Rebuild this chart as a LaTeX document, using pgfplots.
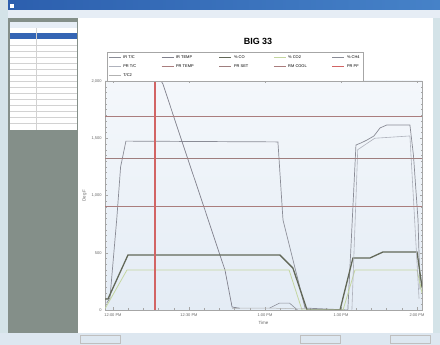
\documentclass[border=0pt]{standalone}
\usepackage{fontspec}
\setmainfont{Liberation Sans}
\usepackage{pgfplots}
\pgfplotsset{compat=1.18}
\definecolor{bgside}{RGB}{212,227,232}
\definecolor{titleblue}{RGB}{44,95,174}
\definecolor{titleblue2}{RGB}{70,130,200}
\definecolor{menubar}{RGB}{230,237,245}
\definecolor{panelgray}{RGB}{132,143,137}
\definecolor{selblue}{RGB}{52,101,180}
\definecolor{statusbar}{RGB}{221,231,240}
\definecolor{refred}{RGB}{170,125,125}
\definecolor{cursorred}{RGB}{210,100,100}
\definecolor{steepgray}{RGB}{128,128,140}
\definecolor{plategray}{RGB}{138,140,150}
\definecolor{darkolive}{RGB}{98,104,88}
\definecolor{lightgreen}{RGB}{196,214,160}
\definecolor{lightgray}{RGB}{175,178,188}
\definecolor{plotbg}{RGB}{228,236,245}
\begin{document}
\begin{tikzpicture}
% ---------- window frame (decoration) ----------
\fill[bgside] (0bp,0bp) rectangle (440bp,345bp);
\shade[left color=titleblue, right color=titleblue2] (8bp,335bp) rectangle (440bp,344bp);
\fill[white] (10bp,337bp) rectangle (14bp,341bp);
\fill[menubar] (8bp,327bp) rectangle (440bp,335bp);
\fill[panelgray] (8bp,12bp) rectangle (78bp,327bp);
\fill[white] (10bp,215bp) rectangle (77bp,323bp);
\fill[menubar] (10bp,317bp) rectangle (77bp,323bp);
\fill[selblue] (10bp,306bp) rectangle (77bp,312bp);
\foreach \r in {300,294,288,282,276,270,264,258,252,246,240,234,228,222}{
  \draw[gray!35,line width=0.3bp] (10bp,\r bp) -- (77bp,\r bp);}
\draw[gray!35,line width=0.3bp] (36bp,215bp) -- (36bp,317bp);
\fill[white] (78bp,12bp) rectangle (433bp,327bp);
\fill[statusbar] (0bp,0bp) rectangle (440bp,12bp);
\draw[gray!50,line width=0.3bp] (80bp,2bp) rectangle (120bp,10bp);
\draw[gray!50,line width=0.3bp] (300bp,2bp) rectangle (340bp,10bp);
\draw[gray!50,line width=0.3bp] (390bp,2bp) rectangle (430bp,10bp);
% ---------- title ----------
\node[font=\bfseries\fontsize{9}{10}\selectfont] at (258bp,304bp) {BIG 33};
% ---------- chart ----------
\begin{axis}[
  at={(105bp,35bp)}, anchor=south west,
  width=317bp, height=229bp, scale only axis,
  xmin=-3.16, xmax=121.97, ymin=0, ymax=2000,
  axis background/.style={top color=white!60!plotbg, bottom color=plotbg},
  axis line style={gray!70, line width=0.6bp},
  xtick={0,30,60,90,120},
  xticklabels={12:00 PM,12:30 PM,1:00 PM,1:30 PM,2:00 PM},
  ytick={0,500,1000,1500,2000},
  minor x tick num=4, minor y tick num=9,
  tick style={gray!70, line width=0.3bp},
  major tick length=2.5bp, minor tick length=1.5bp,
  tick label style={font=\fontsize{4}{4.5}\selectfont, text=gray!80!black},
  /pgf/number format/assume math mode=true,
  xlabel={Time}, ylabel={Deg F},
  label style={font=\fontsize{4.5}{5}\selectfont, text=gray!80!black},
  xlabel style={yshift=2bp}, ylabel style={yshift=-2bp},
  legend columns=5,
  legend cell align=left,
  legend style={at={(axis description cs:0.006,1.127)}, anchor=north west,
    font=\fontsize{4}{4.5}\selectfont, draw=gray!70, line width=0.4bp,
    inner sep=1.5bp, row sep=0.6bp,
    /tikz/every even column/.append style={column sep=23bp}},
  legend image code/.code={\draw[#1] (0bp,0bp) -- (12bp,0bp);},
]
% 1 IR T/C : plateau curve
\addplot[plategray, line width=0.7bp] coordinates {
 (-2.5,60) (-1.2,105) (1.5,800) (3.0,1250) (5.1,1475) (30,1472) (65.1,1468)
 (67.1,786) (75.8,17) (92.7,0) (95.9,1441) (98,1460) (100.3,1485) (103,1520)
 (105.4,1590) (108.1,1616) (117.2,1616) (118.6,1350) (120.4,786) (121.2,180)};
\addlegendentry{IR T/C}
% 2 IR TEMP : steep descending line
\addplot[steepgray, line width=0.7bp] coordinates {
 (19.0,2000) (19.7,1974) (28,1420) (36.3,873) (41,560) (44.2,349) (47.0,26) (50,15)};
\addlegendentry{IR TEMP}
% 3 % CO : thick dark line
\addplot[darkolive, line width=1.3bp] coordinates {
 (-3.16,96) (-2,96) (5.9,480) (40,480) (65.9,480) (71.0,367) (76.6,0)
 (89.6,0) (94.7,454) (101.4,454) (106.6,507) (120.0,507) (121.97,200)};
\addlegendentry{\% CO}
% 4 % CO2 : light green
\addplot[lightgreen, line width=0.8bp] coordinates {
 (-3.16,17) (-3,17) (5.5,349) (40,349) (69.5,349) (74.6,0) (90.8,0)
 (95.5,349) (120,349) (121.97,150)};
\addlegendentry{\% CO2}
% 5 % CH4 : small hump near bottom
\addplot[plategray, line width=0.6bp] coordinates {
 (61.8,17) (65.7,60) (69.7,60) (72.8,0)};
\addlegendentry{\% CH4}
% 6 PR T/C : lighter second plateau on the right
\addplot[lightgray, line width=0.6bp] coordinates {
 (94.3,0) (96.6,1400) (103.3,1500) (117.2,1520) (120.8,100)};
\addlegendentry{PR T/C}
% 7 PR TEMP : reference line
\addplot[refred, line width=0.7bp] coordinates {(-3.16,1694) (121.97,1694)};
\addlegendentry{PR TEMP}
% 8 PR SET : reference line
\addplot[refred!75!gray, line width=0.7bp] coordinates {(-3.16,1328) (121.97,1328)};
\addlegendentry{PR SET}
% 9 RM COOL : reference line
\addplot[refred, line width=0.7bp] coordinates {(-3.16,908) (121.97,908)};
\addlegendentry{RM COOL}
% 10 PR PF : cursor
\addplot[cursorred, line width=1.2bp] coordinates {(16.6,0) (16.6,2000)};
\addlegendentry{PR PF}
% 11 T/C2 : near-zero line
\addplot[gray!60, line width=0.5bp] coordinates {(47,15) (61.8,17) (72.8,10) (76,12)};
\addlegendentry{T/C2}
\end{axis}
\end{tikzpicture}
\end{document}
